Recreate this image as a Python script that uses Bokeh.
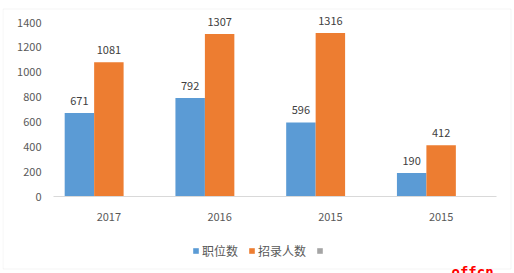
from bokeh.plotting import figure
from bokeh.models import (ColumnDataSource, FixedTicker, Range1d, Legend, LegendItem,
                          BoxAnnotation, Label)
from bokeh.core.properties import value
from bokeh.transform import dodge
from bokeh.embed import file_html
from bokeh.resources import INLINE

categories = ["2017", "2016", "2015", "2015"]
series_names = ["职位数", "招录人数", ""]
positions = [671, 792, 596, 190]
recruits = [1081, 1307, 1316, 412]
third = [0, 0, 0, 0]
colors = ["#5b9bd5", "#ed7d31", "#a5a5a5"]
y_ticks = [0, 200, 400, 600, 800, 1000, 1200, 1400]

FONT = "Noto Sans CJK SC"
idx = list(range(len(categories)))
bw = 0.266

# frame spans x 2..512, y 7..273; plot area x 53..496 (cats -0.5..3.5), y 196 (0) .. 22 (1400)
pxu_x = 443 / 4
pxu_y = 174 / 1400
x0 = -0.5 - 51 / pxu_x
x1 = 3.5 + 16 / pxu_x
y1 = (196 - 7) / pxu_y
y0 = -(273 - 196) / pxu_y

p = figure(width=514, height=273, output_backend="svg", toolbar_location=None,
           x_range=Range1d(x0, x1), y_range=Range1d(y0, y1),
           min_border_left=2, min_border_right=2, min_border_top=7, min_border_bottom=0)
p.outline_line_color = None
p.xgrid.visible = False
p.ygrid.visible = False
p.background_fill_color = "white"
p.border_fill_color = "white"

src = ColumnDataSource(dict(x=idx, a=positions, b=recruits, c=third,
                            la=[str(v) for v in positions], lb=[str(v) for v in recruits]))
r1 = p.vbar(x=dodge("x", -bw, range=p.x_range), top="a", width=bw, source=src,
            fill_color=colors[0], line_color=None)
r2 = p.vbar(x="x", top="b", width=bw, source=src, fill_color=colors[1], line_color=None)
r3 = p.vbar(x=dodge("x", bw, range=p.x_range), top="c", width=bw, source=src,
            fill_color=colors[2], line_color=None)

p.text(x=dodge("x", -bw, range=p.x_range), y="a", text="la", source=src,
       text_align="center", text_baseline="middle", y_offset=-12,
       text_font=value(FONT), text_font_size="11px", text_color="#404040")
p.text(x="x", y="b", text="lb", source=src,
       text_align="center", text_baseline="middle", y_offset=-12,
       text_font=value(FONT), text_font_size="11px", text_color="#404040")

xa = p.xaxis[0]
xa.fixed_location = 0
xa.bounds = (-0.5, 3.5)
xa.ticker = FixedTicker(ticks=idx)
xa.major_label_overrides = {i: c for i, c in zip(idx, categories)}
xa.axis_line_color = "#d9d9d9"
xa.major_tick_line_color = None
xa.minor_tick_line_color = None
xa.major_tick_out = 0
xa.major_tick_in = 0
xa.major_label_standoff = 16
xa.major_label_text_font = FONT
xa.major_label_text_font_size = "11px"
xa.major_label_text_color = "#595959"

ya = p.yaxis[0]
ya.fixed_location = -0.5
ya.ticker = FixedTicker(ticks=y_ticks)
ya.axis_line_color = None
ya.major_tick_line_color = None
ya.minor_tick_line_color = None
ya.major_tick_out = 0
ya.major_tick_in = 0
ya.major_label_standoff = 12
ya.major_label_text_font = FONT
ya.major_label_text_font_size = "11px"
ya.major_label_text_color = "#595959"

legend = Legend(items=[LegendItem(label=series_names[0], renderers=[r1]),
                       LegendItem(label=series_names[1], renderers=[r2]),
                       LegendItem(label=series_names[2], renderers=[r3])],
                orientation="horizontal", location=(190, 14),
                glyph_width=7, glyph_height=7, label_standoff=3, spacing=10,
                padding=0, margin=0, label_width=0, label_height=12,
                border_line_color=None, background_fill_alpha=0,
                label_text_font=FONT, label_text_font_size="12px",
                label_text_color="#595959")
p.add_layout(legend, "center")

p.add_layout(BoxAnnotation(left=2.5, right=510.5, top=8.5, bottom=268.5,
                           left_units="canvas", right_units="canvas",
                           top_units="canvas", bottom_units="canvas",
                           fill_color=None, line_color="#d9d9d9", line_width=1))
p.add_layout(Label(x=451, y=271, x_units="canvas", y_units="canvas", text="offcn",
                   text_font="DejaVu Sans Mono", text_font_style="bold",
                   text_font_size="14px", text_color="#ff0000", text_baseline="alphabetic"))

open("out.html", "w").write(file_html(p, INLINE))
